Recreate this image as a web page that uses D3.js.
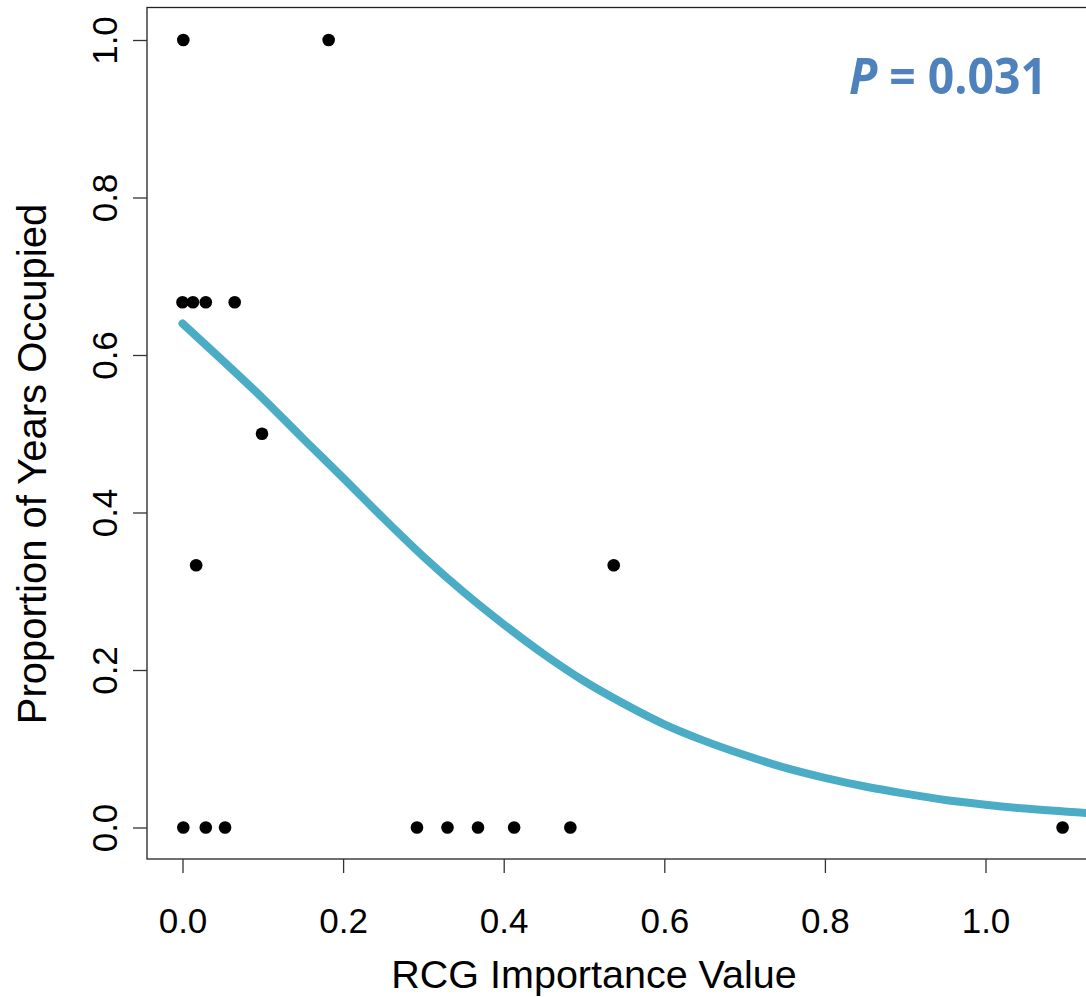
<!DOCTYPE html>
<html><head><meta charset="utf-8">
<script src="https://cdn.jsdelivr.net/npm/d3@7"></script>
<style>html,body{margin:0;padding:0;background:#fff;}svg{display:block;}</style>
</head><body>
<svg id="c" width="1086" height="997"></svg>
<script>
// Observed points
const pointX = [0.001, 0.182, 0.0, 0.013, 0.029, 0.065, 0.099, 0.017, 0.537, 0.001, 0.029, 0.053, 0.292, 0.330, 0.368, 0.413, 0.483, 1.096];
const pointY = [1.0, 1.0, 0.667, 0.667, 0.667, 0.667, 0.5, 0.333, 0.333, 0, 0, 0, 0, 0, 0, 0, 0, 0];
// Fitted curve
const curveX = [0, 0.05, 0.1, 0.15, 0.2, 0.25, 0.3, 0.35, 0.4, 0.45, 0.5, 0.55, 0.6, 0.65, 0.7, 0.75, 0.8, 0.85, 0.9, 0.95, 1.0, 1.05, 1.13];
const curveY = [0.640, 0.593, 0.545, 0.494, 0.444, 0.393, 0.344, 0.299, 0.258, 0.220, 0.186, 0.157, 0.131, 0.110, 0.092, 0.076, 0.063, 0.052, 0.043, 0.035, 0.029, 0.024, 0.018];
const xTicks = [0, 0.2, 0.4, 0.6, 0.8, 1.0];
const yTicks = [0, 0.2, 0.4, 0.6, 0.8, 1.0];
const xTitle = "RCG Importance Value";
const yTitle = "Proportion of Years Occupied";
const pLabel = "0.031";

const svg = d3.select("#c");
const x = d3.scaleLinear().domain([0, 1]).range([182.5, 985.5]);
const y = d3.scaleLinear().domain([0, 1]).range([827.5, 40]);
const font = "'Liberation Sans', Arial, sans-serif";

// plot box
svg.append("rect").attr("x", 147).attr("y", 7.5).attr("width", 1000).attr("height", 851.5)
  .attr("fill", "none").attr("stroke", "#222").attr("stroke-width", 1.3);

// x axis
const xa = d3.axisBottom(x).tickValues(xTicks).tickFormat(d3.format(".1f")).tickSize(14).tickPadding(35);
const gx = svg.append("g").attr("transform", "translate(0,859)").call(xa);
gx.select(".domain").remove();
gx.selectAll(".tick line").attr("stroke", "#333").attr("stroke-width", 1.3);
gx.selectAll(".tick text").attr("font-family", font).attr("font-size", 35).attr("fill", "#000")
  .attr("dy", null).attr("y", 74);

// y axis
const ya = d3.axisLeft(y).tickValues(yTicks).tickFormat(d3.format(".1f")).tickSize(14);
const gy = svg.append("g").attr("transform", "translate(147,0)").call(ya);
gy.select(".domain").remove();
gy.selectAll(".tick line").attr("stroke", "#333").attr("stroke-width", 1.3);
gy.selectAll(".tick text").attr("font-family", font).attr("font-size", 35).attr("fill", "#000")
  .attr("x", null).attr("dy", null).attr("text-anchor", "middle")
  .attr("transform", "translate(-30,0) rotate(-90)");

// titles
svg.append("text").attr("x", 594).attr("y", 988).attr("text-anchor", "middle")
  .attr("font-family", font).attr("font-size", 39.5).attr("fill", "#000").text(xTitle);
svg.append("text").attr("transform", "translate(46,464) rotate(-90)").attr("text-anchor", "middle")
  .attr("font-family", font).attr("font-size", 40).attr("fill", "#000").text(yTitle);

// curve
const line = d3.line().x(d => x(d[0])).y(d => y(d[1])).curve(d3.curveMonotoneX);
svg.append("path").datum(d3.zip(curveX, curveY)).attr("d", line)
  .attr("fill", "none").attr("stroke", "#4BACC6").attr("stroke-width", 8)
  .attr("stroke-linecap", "round").attr("stroke-linejoin", "round");

// points
svg.append("g").selectAll("circle").data(d3.zip(pointX, pointY)).join("circle")
  .attr("cx", d => x(d[0])).attr("cy", d => y(d[1])).attr("r", 6.3).attr("fill", "#000");

// P label
const t = svg.append("text").attr("x", 849).attr("y", 94)
  .attr("font-family", "'Open Sans', sans-serif").attr("font-weight", "bold").attr("font-size", 51)
  .attr("fill", "#4F81BD").attr("textLength", 198).attr("lengthAdjust", "spacingAndGlyphs");
t.append("tspan").attr("font-style", "italic").text("P");
t.append("tspan").text(" = " + pLabel);
</script>
</body></html>
